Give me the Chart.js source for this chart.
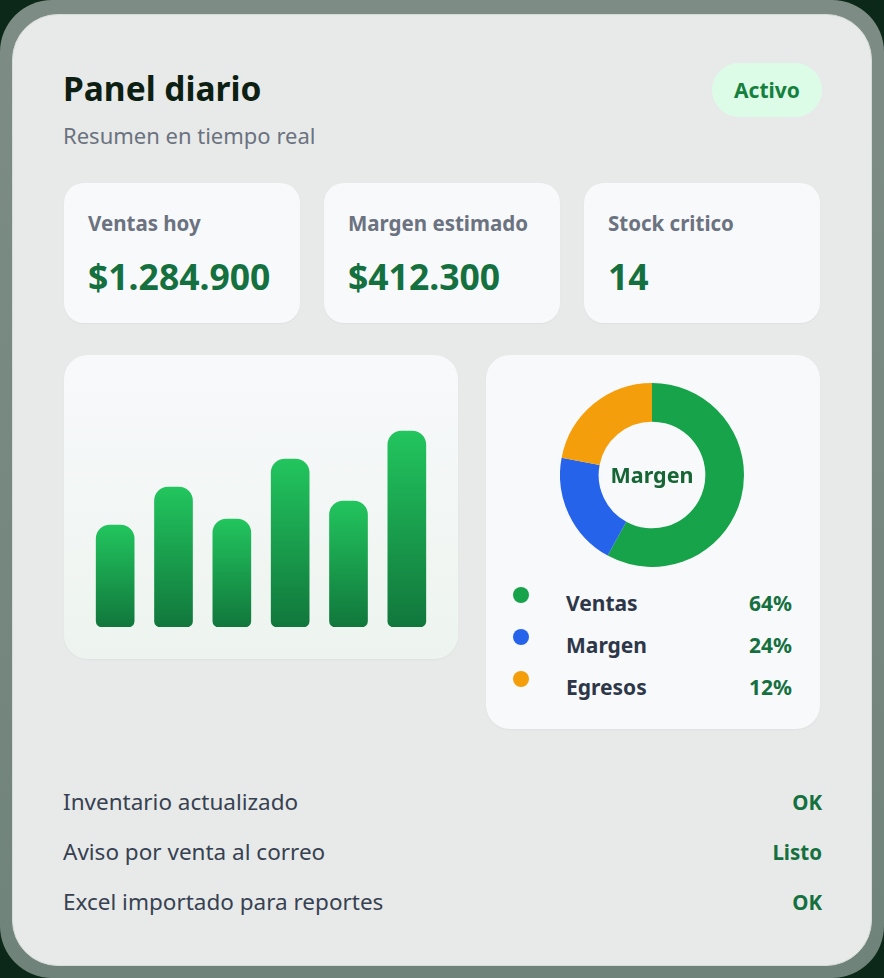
<!DOCTYPE html>
<html lang="es">
<head>
<meta charset="utf-8">
<title>Panel diario</title>
<script src="https://cdn.jsdelivr.net/npm/chart.js@4.4.1/dist/chart.umd.min.js"></script>
<style>
  * { box-sizing: border-box; }
  body {
    margin: 0;
    width: 884px;
    height: 978px;
    background: #0b2818;
    font-family: "Noto Sans", "Open Sans", sans-serif;
    overflow: hidden;
  }
  .frame {
    position: absolute; left: 0; top: 0; width: 884px; height: 978px;
    border-radius: 52px;
    background: linear-gradient(#7d8d85, #70837a);
  }
  .panel {
    position: absolute; left: 12px; top: 14px; width: 860px; height: 952px;
    border-radius: 46px;
    background: #e8eae9;
    border: 1px solid #d6ddd8;
  }
  .abs { position: absolute; }
  .title { left: 63px; top: 67px; font-size: 33.5px; font-weight: 700; color: #0d1f12; line-height: 42px; }
  .subtitle { left: 63px; top: 120px; font-size: 22px; color: #6b7280; line-height: 30px; }
  .badge {
    left: 712px; top: 63px; width: 110px; height: 54px; border-radius: 27px;
    background: #dcfce7; color: #15803d; font-size: 21px; font-weight: 700;
    line-height: 54px; text-align: center;
  }
  .kpi {
    top: 183px; width: 236px; height: 140px; border-radius: 20px;
    background: #f8f9fb; box-shadow: 0 1px 2px rgba(0,0,0,0.04);
  }
  .kpi .lbl { position: absolute; left: 24px; top: 26px; font-size: 20.5px; font-weight: 700; color: #6b7280; line-height: 28px; white-space: nowrap; }
  .kpi .val { position: absolute; left: 24px; top: 70px; font-size: 35.5px; font-weight: 700; color: #15703f; line-height: 46px; white-space: nowrap; }
  .card {
    border-radius: 24px; box-shadow: 0 1px 2px rgba(0,0,0,0.04);
  }
  .bars-card { left: 64px; top: 355px; width: 394px; height: 304px; background: linear-gradient(#f8f9fb, #edf4ef); }
  .donut-card { left: 486px; top: 355px; width: 334px; height: 374px; background: #f8f9fb; }
  .center-lbl {
    left: 560px; top: 460px; width: 184px; text-align: center;
    font-size: 21.5px; font-weight: 700; color: #166534; line-height: 30px;
  }
  .leg-dot { width: 16px; height: 16px; border-radius: 50%; }
  .leg-name { font-size: 21px; font-weight: 700; color: #2d3748; line-height: 28px; }
  .leg-pct { width: 80px; text-align: right; font-size: 21px; font-weight: 700; color: #15703f; line-height: 28px; }
  .row-name { left: 63px; font-size: 22.5px; color: #374151; line-height: 30px; }
  .row-st { width: 120px; left: 702px; text-align: right; font-size: 20.5px; font-weight: 700; color: #15703f; line-height: 28px; }
</style>
</head>
<body>
<div class="frame"></div>
<div class="panel"></div>

<div class="abs title">Panel diario</div>
<div class="abs subtitle">Resumen en tiempo real</div>
<div class="abs badge">Activo</div>

<div id="kpis"></div>

<div class="abs card bars-card"></div>
<div class="abs" style="left:86px; top:427px; width:350px; height:200px;">
  <canvas id="barras"></canvas>
</div>

<div class="abs card donut-card"></div>
<div class="abs" style="left:560px; top:383px; width:184px; height:184px;">
  <canvas id="dona"></canvas>
</div>
<div class="abs center-lbl">Margen</div>
<div id="leyenda"></div>

<div id="lista"></div>

<script>
// datos
const kpiLabels = ['Ventas hoy', 'Margen estimado', 'Stock critico'];
const kpiValues = ['$1.284.900', '$412.300', '14'];

const barLabels = ['L', 'M', 'X', 'J', 'V', 'S'];
const barValues = [51, 70, 54, 84, 63, 98];

const donutLabels = ['Ventas', 'Margen', 'Egresos'];
const donutValues = [58, 20, 22];
const donutPct = ['64%', '24%', '12%'];
const donutColors = ['#16a34a', '#2563eb', '#f59e0b'];

const taskNames = ['Inventario actualizado', 'Aviso por venta al correo', 'Excel importado para reportes'];
const taskStatus = ['OK', 'Listo', 'OK'];


// tarjetas KPI
const kpiBox = document.getElementById('kpis');
kpiLabels.forEach((l, i) => {
    const d = document.createElement('div');
    d.className = 'abs kpi';
    d.style.left = (64 + i * 260) + 'px';
    d.innerHTML = '<div class="lbl">' + l + '</div><div class="val">' + kpiValues[i] + '</div>';
    kpiBox.appendChild(d);
});

// leyenda de la dona
const leg = document.getElementById('leyenda');
donutLabels.forEach((l, i) => {
    const y = 589 + i * 42;
    leg.innerHTML +=
        '<div class="abs leg-dot" style="left:513px; top:' + (y - 2) + 'px; background:' + donutColors[i] + '"></div>' +
        '<div class="abs leg-name" style="left:566px; top:' + y + 'px">' + l + '</div>' +
        '<div class="abs leg-pct" style="left:712px; top:' + y + 'px">' + donutPct[i] + '</div>';
});

// lista de estado
const lista = document.getElementById('lista');
taskNames.forEach((t, i) => {
    const y = 787 + i * 50;
    lista.innerHTML +=
        '<div class="abs row-name" style="top:' + y + 'px">' + t + '</div>' +
        '<div class="abs row-st" style="top:' + (y + 1) + 'px">' + taskStatus[i] + '</div>';
});


// CHART 1 - barras
function barGradient(ctx) {
    const chart = ctx.chart;
    const y = chart.scales.y;
    if (!chart.chartArea || !y || !ctx.parsed) return '#1ca552';
    const top = y.getPixelForValue(ctx.parsed.y);
    const bottom = y.getPixelForValue(0);
    if (!isFinite(top) || !isFinite(bottom)) return '#1ca552';
    const g = chart.ctx.createLinearGradient(0, top, 0, bottom);
    g.addColorStop(0, '#22c55e');
    g.addColorStop(1, '#11773c');
    return g;
}

const config1 = {
    type: 'bar',
    data: {
        labels: barLabels,
        datasets: [{
            data: barValues,
            backgroundColor: barGradient,
            barThickness: 38,
            borderRadius: { topLeft: 14, topRight: 14, bottomLeft: 6, bottomRight: 6 },
            borderSkipped: false
        }]
    },
    options: {
        responsive: true,
        maintainAspectRatio: false,
        animation: false,
        layout: { padding: 0 },
        plugins: { legend: { display: false }, tooltip: { enabled: false } },
        scales: {
            x: { display: false },
            y: { display: false, min: 0, max: 100 }
        }
    }
};
new Chart(document.getElementById('barras'), config1);


// CHART 2 - dona
const config2 = {
    type: 'doughnut',
    data: {
        labels: donutLabels,
        datasets: [{
            data: donutValues,
            backgroundColor: donutColors,
            borderWidth: 0,
            hoverOffset: 0
        }]
    },
    options: {
        responsive: true,
        maintainAspectRatio: false,
        animation: false,
        cutout: '58%',
        plugins: { legend: { display: false }, tooltip: { enabled: false } }
    }
};
new Chart(document.getElementById('dona'), config2);
</script>
</body>
</html>
